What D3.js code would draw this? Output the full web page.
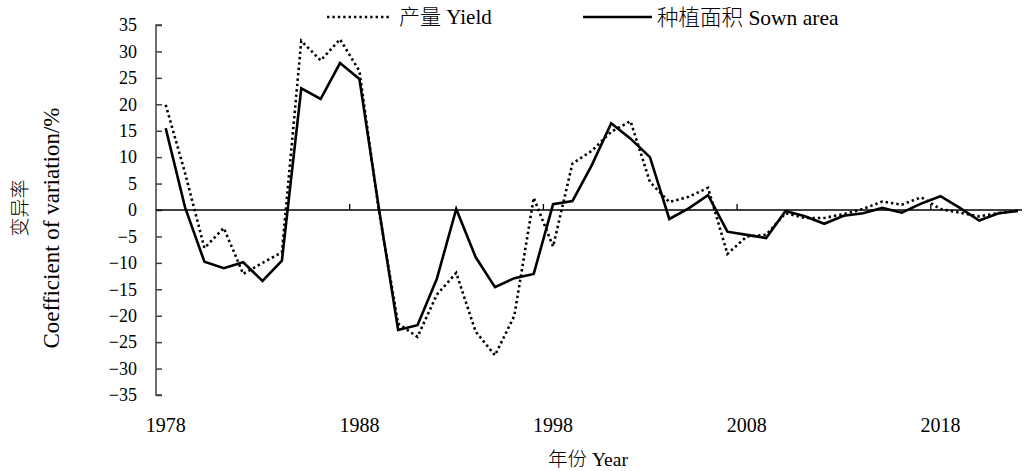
<!DOCTYPE html>
<html>
<head>
<meta charset="utf-8">
<script src="https://cdn.jsdelivr.net/npm/d3@7"></script>
<style>
  html, body { margin: 0; padding: 0; background: #fff; }
  svg { display: block; }
  text { font-family: "Liberation Serif", "Times New Roman", "Noto Sans CJK SC", serif; fill: #000; font-weight: 300; }
</style>
</head>
<body>
<svg id="chart" width="1024" height="471"></svg>
<script>
// Years on the category axis
const years = d3.range(1978, 2023);

// Coefficient of variation (%) of yield
const yieldValues = [
  19.9, 7.0, -7.2, -3.4, -12.1, -10.0, -8.0, 32.0, 28.3, 32.3,
  26.3, 0.0, -21.5, -24.0, -16.0, -11.9, -23.0, -27.5, -20.0, 2.3,
  -6.9, 8.8, 11.2, 14.8, 16.8, 5.3, 1.5, 2.5, 4.2, -8.3,
  -5.0, -4.7, -0.6, -1.5, -1.5, -0.8, 0.2, 1.6, 1.0, 2.4,
  0.2, -0.5, -1.2, -0.6, -0.1
];

// Coefficient of variation (%) of sown area
const areaValues = [
  15.5, 0.5, -9.8, -11.0, -9.9, -13.4, -9.6, 23.0, 21.0, 27.8,
  24.8, 0.5, -22.7, -21.8, -13.0, 0.2, -8.9, -14.6, -12.9, -12.1,
  1.1, 1.7, 8.5, 16.4, 13.5, 10.0, -1.7, 0.3, 2.8, -4.1,
  -4.7, -5.3, -0.2, -1.2, -2.6, -1.1, -0.6, 0.4, -0.5, 1.2,
  2.6, 0.4, -2.0, -0.6, -0.2
];

const yTicks = d3.range(-35, 36, 5);
const xLabelYears = [1978, 1988, 1998, 2008, 2018];

const svg = d3.select("#chart");
const plotLeft = 156, plotTop = 25, plotBottom = 395;
const band = 19.37;

const x = d3.scaleBand()
  .domain(years)
  .range([plotLeft, plotLeft + band * years.length]);
const y = d3.scaleLinear().domain([-35, 35]).range([plotBottom, plotTop]);
const cx = yr => x(yr) + x.bandwidth() / 2;

// Y axis with inward ticks
const yAxis = d3.axisRight(y).tickValues(yTicks).tickSize(6).tickFormat("");
const gy = svg.append("g").attr("transform", `translate(${plotLeft},0)`).call(yAxis);
gy.select(".domain").attr("d", `M6,${plotTop}H0V${plotBottom}H6`).attr("stroke", "#404040").attr("stroke-width", 1.5);
gy.selectAll(".tick line").attr("stroke", "#404040").attr("stroke-width", 1.5);

// Y tick labels, right-aligned to the left of the axis
svg.append("g").selectAll("text")
  .data(yTicks)
  .join("text")
  .attr("x", 137)
  .attr("y", d => y(d))
  .attr("dy", "0.35em")
  .attr("text-anchor", "end")
  .style("font-size", "18px")
  .text(d => d < 0 ? "\u2212" + Math.abs(d) : d);

// Zero line as the category axis
svg.append("line")
  .attr("x1", plotLeft).attr("x2", 1022)
  .attr("y1", y(0)).attr("y2", y(0))
  .attr("stroke", "#000").attr("stroke-width", 1.3);

// Category tick marks every ten years, pointing up
svg.append("g").selectAll("line")
  .data(xLabelYears.slice(1))
  .join("line")
  .attr("x1", d => x(d)).attr("x2", d => x(d))
  .attr("y1", y(0)).attr("y2", y(0) - 6)
  .attr("stroke", "#000").attr("stroke-width", 1.3);

// Year labels along the bottom
svg.append("g").selectAll("text")
  .data(xLabelYears)
  .join("text")
  .attr("x", d => cx(d))
  .attr("y", 432)
  .attr("text-anchor", "middle")
  .style("font-size", "20px")
  .text(d => d);

// Series lines
const line = vals => d3.line()
  .x((d, i) => cx(years[i]))
  .y(d => y(d))(vals);

svg.append("path")
  .attr("d", line(yieldValues))
  .attr("fill", "none")
  .attr("stroke", "#000")
  .attr("stroke-width", 2.6)
  .attr("stroke-dasharray", "2.4,3");

svg.append("path")
  .attr("d", line(areaValues))
  .attr("fill", "none")
  .attr("stroke", "#000")
  .attr("stroke-width", 2.6)
  .attr("stroke-linejoin", "miter");

// Legend
const legend = svg.append("g");
legend.append("line")
  .attr("x1", 327).attr("x2", 390).attr("y1", 17).attr("y2", 17)
  .attr("stroke", "#000").attr("stroke-width", 2.6).attr("stroke-dasharray", "2.4,3");
legend.append("text")
  .attr("x", 399).attr("y", 17).attr("dy", "0.35em")
  .style("font-size", "21px")
  .text("产量 Yield");
legend.append("line")
  .attr("x1", 583).attr("x2", 652).attr("y1", 17).attr("y2", 17)
  .attr("stroke", "#000").attr("stroke-width", 2.6);
legend.append("text")
  .attr("x", 657).attr("y", 17).attr("dy", "0.35em")
  .style("font-size", "21.5px")
  .text("种植面积 Sown area");

// Axis titles
svg.append("text")
  .attr("x", 588).attr("y", 466)
  .attr("text-anchor", "middle")
  .style("font-size", "19.5px")
  .text("年份 Year");

svg.append("text")
  .attr("transform", "translate(27,208) rotate(-90)")
  .attr("text-anchor", "middle")
  .style("font-size", "19px")
  .text("变异率");

svg.append("text")
  .attr("transform", "translate(59,228) rotate(-90)")
  .attr("text-anchor", "middle")
  .style("font-size", "23px")
  .text("Coefficient of variation/%");
</script>
</body>
</html>
